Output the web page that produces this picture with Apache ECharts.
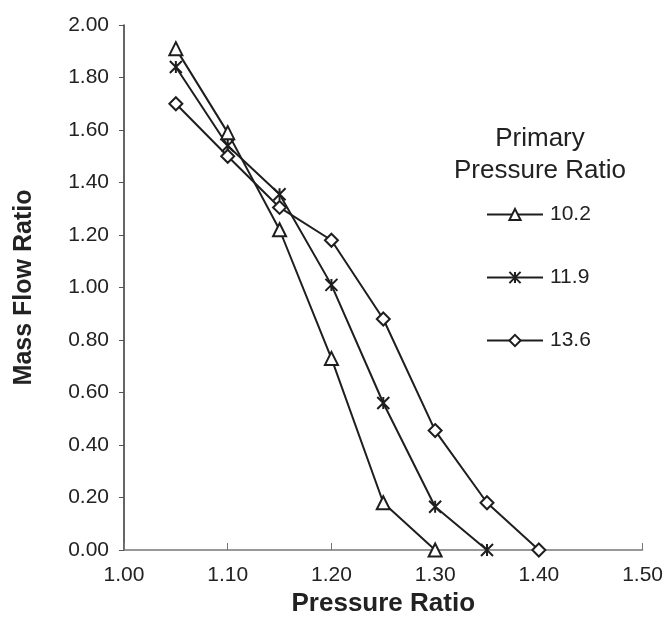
<!DOCTYPE html>
<html><head><meta charset="utf-8">
<script src="https://cdn.jsdelivr.net/npm/echarts@6/dist/echarts.min.js"></script>
<style>html,body{margin:0;padding:0;background:#fff}#c{width:666px;height:626px}</style>
</head><body><div id="c"></div>
<script>
const xValues = [1.05, 1.10, 1.15, 1.20, 1.25, 1.30, 1.35, 1.40];
const series102 = [1.91, 1.59, 1.22, 0.73, 0.18, 0.00];
const series119 = [1.84, 1.54, 1.355, 1.01, 0.56, 0.165, 0.00];
const series136 = [1.70, 1.50, 1.305, 1.18, 0.88, 0.455, 0.18, 0.00];
const seriesNames = ['10.2', '11.9', '13.6'];
const legendTitle = 'Primary\nPressure Ratio';

const starPath = 'path://M0,0L10,10M10,0L0,10M5,0L5,10';
const ink = '#1e1e1e';
const font = 'Liberation Sans, Arial, sans-serif';
function pairs(vals){ return vals.map((v,i)=>[xValues[i], v]); }
function mk(name, vals, symbol, size){
  return {
    name, type:'line', data: pairs(vals), symbol, symbolSize:size,
    lineStyle:{color:ink, width:2},
    itemStyle:{color:'#fff', borderColor:ink, borderWidth:2},
    emphasis:{disabled:true}, animation:false
  };
}
const chart = echarts.init(document.getElementById('c'));
chart.setOption({
  backgroundColor:'#fff',
  animation:false,
  textStyle:{fontFamily:font},
  title:{text:legendTitle, left:535, top:118, textAlign:'center',
    textStyle:{fontSize:26, fontWeight:'normal', color:'#222', lineHeight:32, fontFamily:font}},
  legend:{orient:'vertical', left:481, top:199, itemWidth:56, itemHeight:14, itemGap:42,
    textStyle:{fontSize:21, color:'#222', lineHeight:21, padding:[0,0,0,2]}, data:seriesNames, selectedMode:false},
  grid:{left:124, right:22, top:25, bottom:76},
  xAxis:{type:'value', min:1.0, max:1.5, interval:0.1,
    axisLine:{lineStyle:{color:'#777', width:1.5}},
    axisTick:{inside:true, length:7, lineStyle:{color:'#777'}},
    splitLine:{show:false},
    axisLabel:{fontSize:21, color:'#222', margin:15, formatter:v=>v.toFixed(2)},
    name:'Pressure Ratio', nameLocation:'middle', nameGap:38,
    nameTextStyle:{fontSize:26, fontWeight:'bold', color:'#222'}},
  yAxis:{type:'value', min:0, max:2.0, interval:0.2,
    axisLine:{show:true, lineStyle:{color:'#333', width:1.5}},
    axisTick:{show:true, length:5, lineStyle:{color:'#555'}},
    splitLine:{show:false},
    axisLabel:{fontSize:21, color:'#222', margin:15, formatter:v=>v.toFixed(2)},
    name:'Mass Flow Ratio', nameLocation:'middle', nameGap:87, nameRotate:90,
    nameTextStyle:{fontSize:25, fontWeight:'bold', color:'#222'}},
  series:[
    mk(seriesNames[0], series102, 'triangle', 13),
    mk(seriesNames[1], series119, starPath, 12),
    mk(seriesNames[2], series136, 'diamond', 13)
  ]
});
</script></body></html>
